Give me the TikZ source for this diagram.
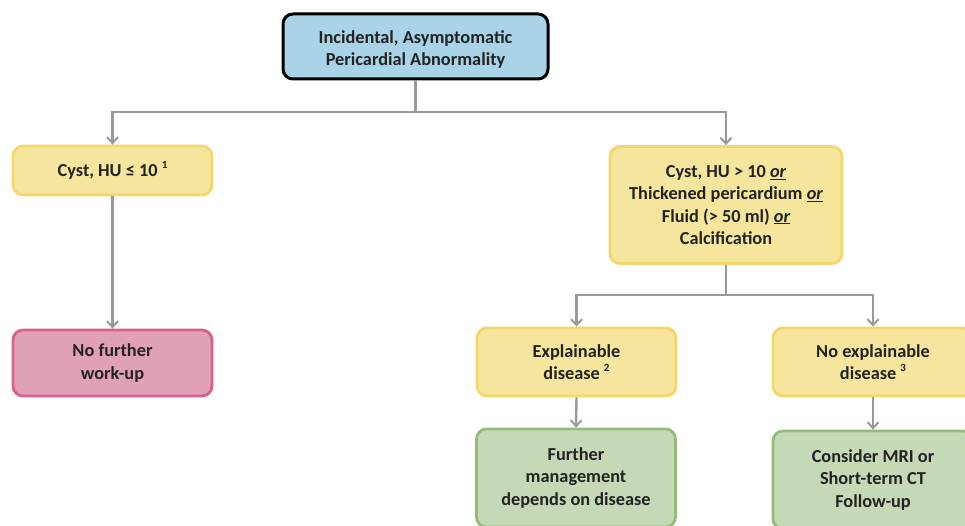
\documentclass[tikz,border=0pt]{standalone}
\usepackage{fontspec}
\setmainfont{Carlito}
\usetikzlibrary{arrows.meta}
\definecolor{blueF}{HTML}{A9D3E6}
\definecolor{yelF}{HTML}{F6E69D}
\definecolor{yelD}{HTML}{F3D66C}
\definecolor{pinkF}{HTML}{E0A0B8}
\definecolor{pinkD}{HTML}{D95F8C}
\definecolor{grnF}{HTML}{C5D9B6}
\definecolor{grnD}{HTML}{93BC77}
\definecolor{lineG}{HTML}{999999}
\definecolor{txt}{HTML}{222222}
\newcommand{\sps}[1]{\raisebox{0.45em}{\fontsize{11}{11}\selectfont #1}}
\newcommand{\orr}{\textit{\underline{or}}}
\tikzset{
  boxtext/.style={align=center, inner sep=0pt,
    font=\fontsize{18.3}{22.3}\selectfont\bfseries, text=txt},
  box/.style={boxtext, rounded corners=10pt, line width=2.8pt},
  yel/.style={box, fill=yelF, draw=yelD},
  conn/.style={draw=lineG, line width=2.4pt},
  arr/.style={conn, -{Straight Barb[length=6pt,width=11pt,line width=2pt]}},
}
\begin{document}
\begin{tikzpicture}[x=1pt,y=-1pt]
\useasboundingbox (0,0) rectangle (965,526);
\clip (0,0) rectangle (965,526);
\node[box, fill=blueF, draw=black, line width=3pt, minimum width=265pt, minimum height=65pt] (top) at (415.5,46.5) {};
\node[boxtext] (toptext) at ([yshift=-3pt]top.center) {Incidental, Asymptomatic\\Pericardial Abnormality};
\node[yel, minimum width=199pt, minimum height=49pt] (cyst) at (112.5,170.5) {Cyst, HU ≤ 10 \sps{1}};
\node[yel, minimum width=232pt, minimum height=117pt] (cx) at (726,205) {Cyst, HU {\textgreater} 10 \orr\\Thickened pericardium \orr\\Fluid ({\textgreater} 50 ml) \orr\\Calcification};
\node[box, fill=pinkF, draw=pinkD, minimum width=199pt, minimum height=66pt] (nfw) at (112.5,363) {No further\\work-up};
\node[yel, minimum width=199pt, minimum height=68pt] (expl) at (576.5,362) {Explainable\\disease \sps{2}};
\node[yel, minimum width=200pt, minimum height=68pt] (noexpl) at (873,362) {No explainable\\disease \sps{3}};
\node[box, fill=grnF, draw=grnD, minimum width=199pt, minimum height=98pt] (fm) at (576,478) {Further\\management\\depends on disease};
\node[box, fill=grnF, draw=grnD, minimum width=200pt, minimum height=98pt] (mri) at (873,480) {Consider MRI or\\Short-term CT\\Follow-up};
\coordinate (j1) at (415.5,112);
\coordinate (j2) at (726,295);
\draw[conn] (top.south) -- (j1);
\draw[arr] (j1) -| (cyst.north);
\draw[arr] (j1) -| (cx.north);
\draw[arr] (cyst.south) -- (nfw.north);
\draw[conn] (cx.south) -- (j2);
\draw[arr] (j2) -| (expl.north);
\draw[arr] (j2) -| (noexpl.north);
\draw[arr] (expl.south) -- (fm.north);
\draw[arr] (noexpl.south) -- (mri.north);
\end{tikzpicture}
\end{document}
